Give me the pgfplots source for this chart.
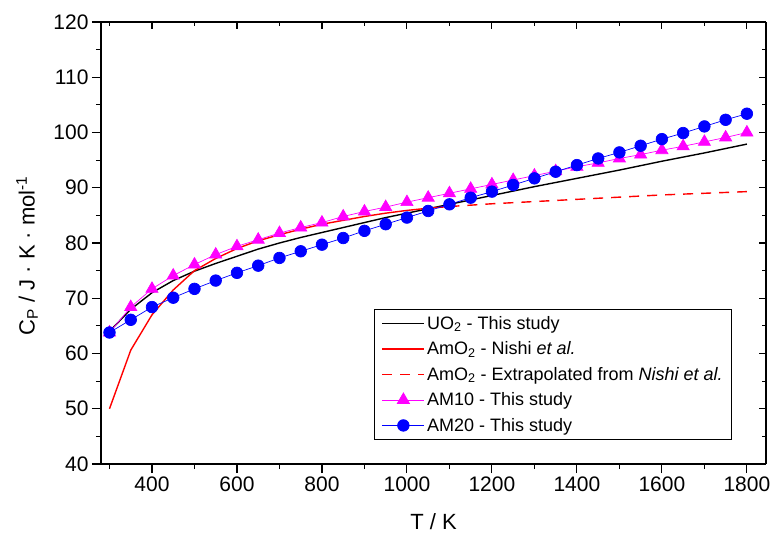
\documentclass[border=0pt]{standalone}
\usepackage{fontspec}
\setmainfont{Liberation Sans}
\usepackage{pgfplots}
\pgfplotsset{compat=1.18}
\definecolor{mymag}{RGB}{255,0,255}
\definecolor{myblue}{RGB}{0,0,255}
\definecolor{myred}{RGB}{255,0,0}
\begin{document}
\begin{tikzpicture}
\useasboundingbox (-101pt,-74pt) rectangle (670pt,464pt);
\pgfplotsset{
  common/.style={
    at={(0pt,0pt)}, anchor=south west,
    scale only axis, width=665pt, height=442pt,
    xmin=280, xmax=1845, ymin=40, ymax=120,
    xtick={400,600,...,1800}, minor xtick={300,500,...,1700},
    ytick={40,50,...,120}, minor ytick={45,55,...,115},
    major tick length=9pt, minor tick length=5pt,
    tick style={black, line width=1.1pt},
    axis line style={-, line width=1.2pt, black},
    /pgf/number format/assume math mode=true,
    /pgf/number format/1000 sep={},
    ticklabel style={font=\fontsize{21}{24}\selectfont},
  }
}
\begin{axis}[common,
  axis x line*=top, axis y line*=right, tick align=inside,
  major tick length=7pt, minor tick length=4pt,
  xticklabels={}, yticklabels={}]
\end{axis}
\begin{axis}[common,
  axis x line*=bottom, axis y line*=left, tick align=outside,
  xlabel={T / K},
  ylabel={C\textsubscript{P} / J · K · mol\textsuperscript{-1}},
  label style={font=\fontsize{22}{25}\selectfont},
  xlabel style={at={(axis description cs:0.5,-0.149)}, anchor=base},
  ylabel style={at={(axis description cs:-0.111,0.471)}, anchor=center},
  legend style={at={(axis description cs:0.949,0.054)}, anchor=south east,
    draw=black, line width=0.8pt, font=\fontsize{18}{20}\selectfont,
    row sep=7pt, inner xsep=7pt, inner ysep=5pt, cells={anchor=west}},
  legend image code/.code={\draw[mark repeat=2,mark phase=2] plot coordinates {(0pt,0pt)(21pt,0pt)(42pt,0pt)};},
  clip=false,
]
% UO2 - This study
\addplot[black, line width=1.4pt, mark=none, legend image post style={black, line width=1.4pt}] coordinates {
(300,64.0)(350,68.0)(400,71.0)(450,73.2)(500,74.9)(550,76.3)(600,77.6)(650,78.9)
(700,80.0)(750,81.0)(800,81.9)(850,82.8)(900,83.7)(950,84.6)(1000,85.4)(1100,87.0)
(1200,88.6)(1300,90.2)(1400,91.7)(1500,93.2)(1600,94.8)(1700,96.3)(1800,97.9)};
\addlegendentry{UO\textsubscript{2} - This study}
% AmO2 - Nishi
\addplot[myred, line width=1.4pt, mark=none, legend image post style={myred, line width=1.4pt}] coordinates {
(300,50.0)(350,60.6)(400,67.0)(450,71.5)(500,75.0)(550,77.2)(600,79.0)(650,80.4)
(700,81.5)(750,82.5)(800,83.4)(850,84.1)(900,84.8)(950,85.4)(1000,85.9)(1050,86.3)(1100,86.6)};
\addlegendentry{AmO\textsubscript{2} - Nishi \textit{et al.}}
% AmO2 - extrapolated
\addplot[myred, line width=1.4pt, mark=none, dash pattern=on 10pt off 8pt, legend image post style={myred, line width=1.4pt}] coordinates {
(1100,86.6)(1200,87.1)(1300,87.5)(1400,87.9)(1500,88.3)(1600,88.7)(1700,89.0)(1800,89.3)};
\addlegendentry{AmO\textsubscript{2} - Extrapolated from \textit{Nishi et al.}}
% AM10
\addplot[mymag, line width=0.7pt, mark=triangle*, mark size=7pt, mark options={solid, fill=mymag, draw=mymag}, legend image post style={mymag, line width=0.7pt}] coordinates {
(300,63.8)(350,68.4)(400,71.7)(450,74.1)(500,76.1)(550,77.9)(600,79.4)(650,80.6)
(700,81.8)(750,82.8)(800,83.7)(850,84.8)(900,85.7)(950,86.5)(1000,87.4)(1050,88.2)
(1100,89.0)(1150,89.8)(1200,90.6)(1250,91.4)(1300,92.2)(1350,93.0)(1400,93.8)(1450,94.5)
(1500,95.3)(1550,96.0)(1600,96.8)(1650,97.5)(1700,98.3)(1750,99.1)(1800,100.0)};
\addlegendentry{AM10 - This study}
% AM20
\addplot[myblue, line width=0.7pt, mark=*, mark size=5.8pt, mark options={solid, fill=myblue, draw=myblue}, legend image post style={myblue, line width=0.7pt}] coordinates {
(300,63.8)(350,66.1)(400,68.4)(450,70.1)(500,71.7)(550,73.2)(600,74.6)(650,75.9)
(700,77.3)(750,78.5)(800,79.7)(850,80.9)(900,82.2)(950,83.4)(1000,84.6)(1050,85.8)
(1100,87.0)(1150,88.2)(1200,89.3)(1250,90.5)(1300,91.7)(1350,92.9)(1400,94.1)(1450,95.3)
(1500,96.4)(1550,97.6)(1600,98.8)(1650,99.9)(1700,101.1)(1750,102.3)(1800,103.4)};
\addlegendentry{AM20 - This study}
\end{axis}
\end{tikzpicture}
\end{document}
